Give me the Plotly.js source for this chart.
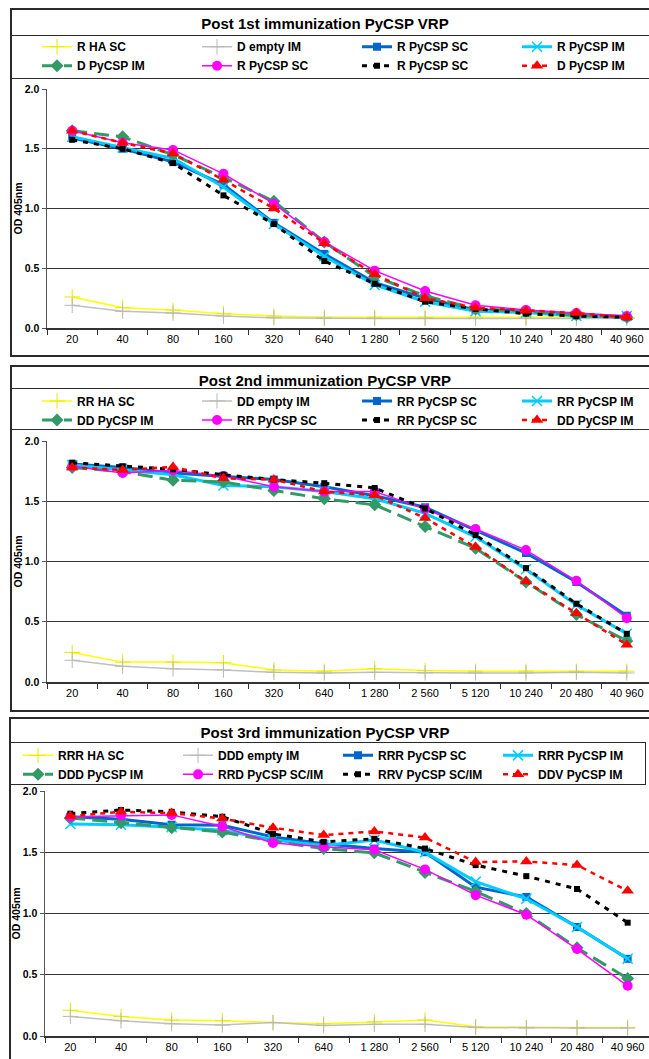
<!DOCTYPE html>
<html>
<head>
<meta charset="utf-8">
<script src="https://cdn.plot.ly/plotly-3.0.1.min.js"></script>
<style>
  html, body { margin: 0; padding: 0; background: #fff; }
  #wrap { position: relative; width: 649px; height: 1059px; overflow: hidden; background: #fff; }
  .plot { position: absolute; left: 0; width: 700px; }
  .box { position: absolute; pointer-events: none; box-sizing: border-box; z-index: 5; }
</style>
</head>
<body>
<div id="wrap">
  <div id="p1" class="plot" style="top:0px;height:360px;"></div>
  <div id="p2" class="plot" style="top:360px;height:350px;"></div>
  <div id="p3" class="plot" style="top:710px;height:349px;"></div>

  <div class="box" style="left:10px;top:8px;width:660px;height:349px;border:2px solid #2a2a2a;"></div>
  <div class="box" style="left:10px;top:35px;width:660px;height:44px;border-top:1.5px solid #2a2a2a;border-bottom:1.5px solid #2a2a2a;"></div>

  <div class="box" style="left:10px;top:365px;width:660px;height:347px;border:2px solid #2a2a2a;"></div>
  <div class="box" style="left:10px;top:388px;width:660px;height:42px;border-top:1.5px solid #2a2a2a;border-bottom:1.5px solid #2a2a2a;"></div>

  <div class="box" style="left:9px;top:717px;width:660px;height:400px;border:2px solid #2a2a2a;"></div>
  <div class="box" style="left:9px;top:742px;width:637px;height:43px;border:1.5px solid #2a2a2a;"></div>
</div>
<script>
// ---------- data ----------
const categories = ["20", "40", "80", "160", "320", "640", "1 280", "2 560", "5 120", "10 240", "20 480", "40 960"];

const titles = [
  "Post 1st immunization PyCSP VRP",
  "Post 2nd immunization PyCSP VRP",
  "Post 3rd immunization PyCSP VRP"
];

const names1 = ["R HA SC", "D empty IM", "R PyCSP SC", "R PyCSP IM", "D PyCSP IM", "R PyCSP SC", "R PyCSP SC", "D PyCSP IM"];
const names2 = ["RR HA SC", "DD empty IM", "RR PyCSP SC", "RR PyCSP IM", "DD PyCSP IM", "RR PyCSP SC", "RR PyCSP SC", "DD PyCSP IM"];
const names3 = ["RRR HA SC", "DDD empty IM", "RRR PyCSP SC", "RRR PyCSP IM", "DDD PyCSP IM", "RRD PyCSP SC/IM", "RRV PyCSP SC/IM", "DDV PyCSP IM"];

// Post 1st immunization
const p1_yellow  = [0.26, 0.17, 0.15, 0.12, 0.10, 0.09, 0.09, 0.09, 0.09, 0.09, 0.09, 0.09];
const p1_gray    = [0.19, 0.14, 0.125, 0.10, 0.085, 0.08, 0.08, 0.08, 0.08, 0.08, 0.08, 0.08];
const p1_blue    = [1.59, 1.50, 1.39, 1.20, 0.88, 0.62, 0.38, 0.25, 0.15, 0.145, 0.105, 0.09];
const p1_cyan    = [1.60, 1.51, 1.42, 1.18, 0.87, 0.60, 0.36, 0.22, 0.14, 0.13, 0.10, 0.10];
const p1_green   = [1.65, 1.60, 1.45, 1.26, 1.06, 0.72, 0.43, 0.27, 0.16, 0.14, 0.11, 0.09];
const p1_magenta = [1.65, 1.55, 1.49, 1.29, 1.04, 0.72, 0.48, 0.31, 0.19, 0.15, 0.125, 0.10];
const p1_black   = [1.575, 1.50, 1.38, 1.11, 0.87, 0.56, 0.37, 0.22, 0.16, 0.12, 0.10, 0.09];
const p1_red     = [1.65, 1.55, 1.46, 1.24, 1.00, 0.71, 0.45, 0.25, 0.17, 0.145, 0.125, 0.09];

// Post 2nd immunization
const p2_yellow  = [0.245, 0.165, 0.165, 0.16, 0.10, 0.09, 0.11, 0.095, 0.09, 0.09, 0.09, 0.09];
const p2_gray    = [0.18, 0.13, 0.11, 0.10, 0.08, 0.075, 0.08, 0.075, 0.075, 0.075, 0.08, 0.075];
const p2_blue    = [1.81, 1.78, 1.735, 1.71, 1.68, 1.62, 1.545, 1.45, 1.26, 1.07, 0.83, 0.55];
const p2_cyan    = [1.80, 1.76, 1.72, 1.63, 1.62, 1.58, 1.52, 1.40, 1.205, 0.935, 0.64, 0.40];
const p2_green   = [1.78, 1.745, 1.675, 1.66, 1.59, 1.52, 1.47, 1.29, 1.11, 0.83, 0.56, 0.34];
const p2_magenta = [1.79, 1.735, 1.755, 1.71, 1.62, 1.58, 1.58, 1.435, 1.27, 1.095, 0.84, 0.53];
const p2_black   = [1.82, 1.79, 1.765, 1.72, 1.68, 1.65, 1.61, 1.44, 1.22, 0.945, 0.65, 0.40];
const p2_red     = [1.78, 1.76, 1.785, 1.69, 1.68, 1.58, 1.55, 1.36, 1.12, 0.835, 0.57, 0.31];

// Post 3rd immunization
const p3_yellow  = [0.21, 0.16, 0.13, 0.125, 0.11, 0.10, 0.115, 0.13, 0.075, 0.07, 0.07, 0.07];
const p3_gray    = [0.16, 0.125, 0.10, 0.09, 0.11, 0.085, 0.095, 0.095, 0.07, 0.065, 0.065, 0.065];
const p3_blue    = [1.79, 1.77, 1.725, 1.72, 1.625, 1.57, 1.53, 1.50, 1.215, 1.135, 0.89, 0.63];
const p3_cyan    = [1.73, 1.725, 1.705, 1.68, 1.60, 1.555, 1.60, 1.50, 1.26, 1.12, 0.89, 0.63];
const p3_green   = [1.78, 1.74, 1.70, 1.665, 1.59, 1.53, 1.495, 1.335, 1.18, 1.00, 0.72, 0.47];
const p3_magenta = [1.79, 1.80, 1.805, 1.71, 1.575, 1.545, 1.52, 1.36, 1.15, 0.99, 0.71, 0.41];
const p3_black   = [1.815, 1.845, 1.83, 1.79, 1.65, 1.585, 1.61, 1.53, 1.395, 1.305, 1.20, 0.925];
const p3_red     = [1.795, 1.83, 1.82, 1.775, 1.70, 1.64, 1.67, 1.62, 1.42, 1.425, 1.395, 1.185];

// ---------- styles ----------
const FONT = "Liberation Sans, Arial, sans-serif";
const styles = [
  { line: { color: "#FFFF00", width: 1.5 }, marker: { symbol: "cross-thin-open", size: 11, color: "#E8E800", line: { color: "#E0E000", width: 1 } } },
  { line: { color: "#C0C0C0", width: 1.5 }, marker: { symbol: "cross-thin-open", size: 11, color: "#B8B8B8", line: { color: "#B8B8B8", width: 1 } } },
  { line: { color: "#0066CC", width: 3 }, marker: { symbol: "square", size: 8, color: "#0066CC" } },
  { line: { color: "#00CCFF", width: 3 }, marker: { symbol: "x-thin-open", size: 10, color: "#00CCFF", line: { color: "#00CCFF", width: 1.5 } } },
  { line: { color: "#339966", width: 3, dash: "15px,7px" }, marker: { symbol: "diamond", size: 10, color: "#339966" } },
  { line: { color: "#FF00FF", width: 1.5 }, marker: { symbol: "circle", size: 10, color: "#FF00FF" } },
  { line: { color: "#000000", width: 3, dash: "5px,6px" }, marker: { symbol: "square", size: 6, color: "#000000" } },
  { line: { color: "#FF0000", width: 2.5, dash: "5px,5px" }, marker: { symbol: "triangle-up", size: 11, color: "#FF0000" } }
];

function buildTraces(names, series) {
  return series.map((ys, i) => ({
    type: "scatter",
    mode: "lines+markers",
    name: names[i],
    x: categories,
    y: ys,
    line: styles[i].line,
    marker: styles[i].marker
  }));
}

function buildLayout(title, height, m, titleY, legX, legY) {
  return {
    width: 700,
    height: height,
    margin: m,
    paper_bgcolor: "rgba(0,0,0,0)",
    plot_bgcolor: "#ffffff",
    showlegend: true,
    title: {
      text: title,
      font: { family: FONT, size: 15, color: "#000", weight: "bold" },
      xref: "container", x: 325 / 700, xanchor: "center",
      yref: "container", y: titleY, yanchor: "middle"
    },
    legend: {
      orientation: "h",
      entrywidth: 115,
      entrywidthmode: "pixels",
      x: legX, xanchor: "left",
      y: legY, yanchor: "top",
      bgcolor: "rgba(0,0,0,0)",
      borderwidth: 0,
      traceorder: "normal",
      font: { family: FONT, size: 12, color: "#000", weight: "bold" }
    },
    xaxis: {
      type: "category",
      categoryorder: "array",
      categoryarray: categories,
      range: [-0.5, 11.5],
      tickson: "boundaries",
      ticks: "outside",
      ticklen: 5,
      tickcolor: "#333",
      showline: true,
      linecolor: "#333",
      linewidth: 1.5,
      showgrid: false,
      tickfont: { family: FONT, size: 11, color: "#000" },
      fixedrange: true
    },
    yaxis: {
      range: [0, 2],
      dtick: 0.5,
      tick0: 0,
      tickformat: ".1f",
      ticks: "outside",
      ticklen: 4,
      tickcolor: "#555",
      showline: true,
      linecolor: "#555",
      linewidth: 1.5,
      showgrid: true,
      gridcolor: "#333",
      gridwidth: 1,
      zeroline: false,
      tickfont: { family: FONT, size: 10.5, color: "#000", weight: "bold" },
      title: { text: "OD 405nm", font: { family: FONT, size: 10.5, color: "#000", weight: "bold" }, standoff: 0 },
      fixedrange: true
    }
  };
}

const cfg = { displayModeBar: false, staticPlot: true };

Plotly.newPlot("p1",
  buildTraces(names1, [p1_yellow, p1_gray, p1_blue, p1_cyan, p1_green, p1_magenta, p1_black, p1_red]),
  buildLayout(titles[0], 360, { l: 47, r: 48, t: 89.3, b: 31.7 }, 1 - 24 / 360, -0.0165, 1.2377),
  cfg);

Plotly.newPlot("p2",
  buildTraces(names2, [p2_yellow, p2_gray, p2_blue, p2_cyan, p2_green, p2_magenta, p2_black, p2_red]),
  buildLayout(titles[1], 350, { l: 47, r: 48, t: 80.7, b: 27.7 }, 1 - 21 / 350, -0.0165, 1.2264),
  cfg);

Plotly.newPlot("p3",
  buildTraces(names3, [p3_yellow, p3_gray, p3_blue, p3_cyan, p3_green, p3_magenta, p3_black, p3_red]),
  buildLayout(titles[2], 349, { l: 45, r: 47, t: 80.7, b: 23 }, 1 - 23 / 349, -0.0444, 1.2046),
  cfg);
</script>
</body>
</html>
